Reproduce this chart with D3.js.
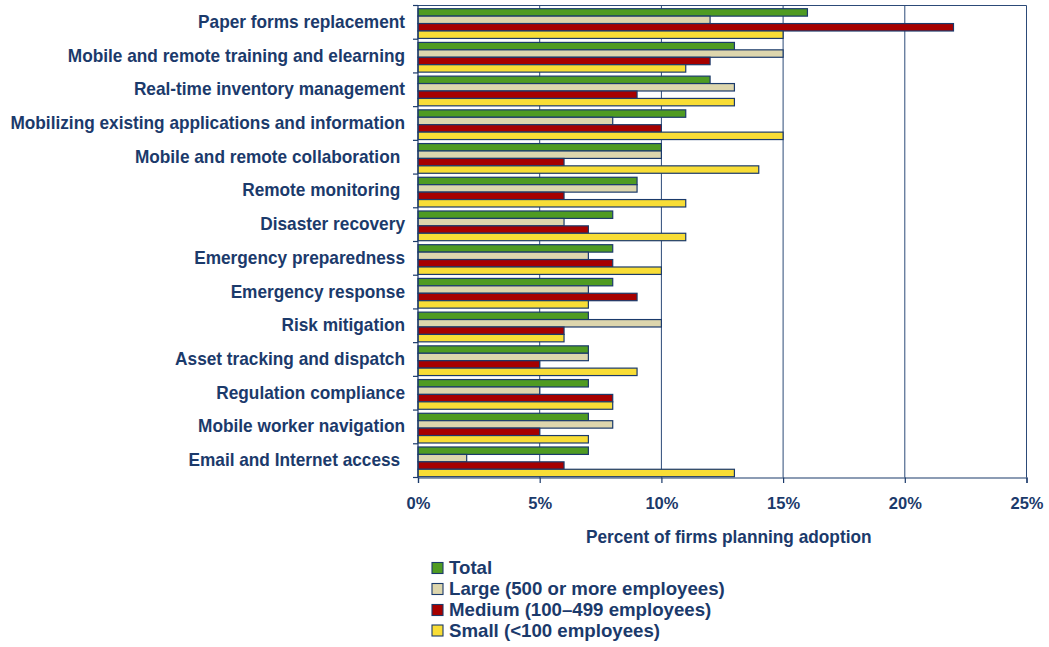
<!DOCTYPE html>
<html>
<head>
<meta charset="utf-8">
<script src="https://cdn.jsdelivr.net/npm/d3@7"></script>
<style>
  html, body { margin: 0; padding: 0; background: #ffffff; }
  svg { display: block; }
  text { font-family: "Liberation Sans", Arial, sans-serif; font-weight: bold; fill: #1b3a6b; white-space: pre; }
</style>
</head>
<body>
<svg id="chart" width="1049" height="647"></svg>
<script>
// Applications ranked by share of firms planning adoption
const categories = [
  "Paper forms replacement",
  "Mobile and remote training and elearning",
  "Real-time inventory management",
  "Mobilizing existing applications and information",
  "Mobile and remote collaboration ",
  "Remote monitoring ",
  "Disaster recovery",
  "Emergency preparedness",
  "Emergency response",
  "Risk mitigation",
  "Asset tracking and dispatch",
  "Regulation compliance",
  "Mobile worker navigation",
  "Email and Internet access "
];

const seriesNames = [
  "Total",
  "Large (500 or more employees)",
  "Medium (100\u2013499 employees)",
  "Small (<100 employees)"
];

// Percent of firms, one array per firm size
const totalValues  = [16, 13, 12, 11, 10, 9, 8, 8, 8, 7, 7, 7, 7, 7];
const largeValues  = [12, 15, 13,  8, 10, 9, 6, 7, 7, 10, 7, 5, 8, 2];
const mediumValues = [22, 12,  9, 10,  6, 6, 7, 8, 9, 6, 5, 8, 5, 6];
const smallValues  = [15, 11, 13, 15, 14, 11, 11, 10, 7, 6, 9, 8, 7, 13];

const xTicks = [0, 5, 10, 15, 20, 25];
const axisTitle = "Percent of firms planning adoption";

const seriesColors = ["#4f9b22", "#ddd6ad", "#a60000", "#f8dd36"];
const navy = "#1b3a6b";

const seriesValues = [totalValues, largeValues, mediumValues, smallValues];
const rows = categories.map((c, i) => ({
  name: c,
  values: seriesValues.map((arr, s) => ({ s, v: arr[i] }))
}));

const svg = d3.select("#chart");

const plot = { left: 418, right: 1026.5, top: 5.5, bottom: 477.5 };

const x = d3.scaleLinear().domain([0, 25]).range([plot.left, plot.right]);
const y = d3.scaleBand().domain(categories).range([plot.top, plot.bottom]).paddingInner(0).paddingOuter(0);
const inner = d3.scaleBand().domain(d3.range(4))
  .range([3.2, y.bandwidth() - 0.8]).paddingInner(0);

// vertical gridlines
svg.append("g")
  .selectAll("line")
  .data(xTicks.slice(1))
  .join("line")
  .attr("x1", d => x(d)).attr("x2", d => x(d))
  .attr("y1", plot.top).attr("y2", plot.bottom)
  .attr("stroke", "#2c4a78").attr("stroke-width", 1);

// top border
svg.append("line")
  .attr("x1", plot.left).attr("x2", plot.right)
  .attr("y1", plot.top).attr("y2", plot.top)
  .attr("stroke", "#2c4a78").attr("stroke-width", 1);

// bars
const groups = svg.append("g")
  .selectAll("g")
  .data(rows)
  .join("g")
  .attr("transform", d => `translate(0,${y(d.name)})`);

groups.selectAll("rect")
  .data(d => d.values)
  .join("rect")
  .attr("x", x(0))
  .attr("y", d => inner(d.s))
  .attr("width", d => x(d.v) - x(0))
  .attr("height", inner.bandwidth())
  .attr("fill", d => seriesColors[d.s])
  .attr("stroke", navy)
  .attr("stroke-width", 1.2);

// y axis (category boundaries as ticks)
const yAxisG = svg.append("g");
yAxisG.append("line")
  .attr("x1", plot.left).attr("x2", plot.left)
  .attr("y1", plot.top).attr("y2", plot.bottom)
  .attr("stroke", navy).attr("stroke-width", 1.2);
const bounds = categories.map(c => y(c)).concat([plot.bottom]);
yAxisG.selectAll("line.tick")
  .data(bounds)
  .join("line")
  .attr("class", "tick")
  .attr("x1", plot.left - 5).attr("x2", plot.left)
  .attr("y1", d => d).attr("y2", d => d)
  .attr("stroke", navy).attr("stroke-width", 1.2);

// category labels
const labelG = svg.append("g");
const labels = labelG.selectAll("text")
  .data(categories)
  .join("text")
  .attr("text-anchor", "end")
  .attr("font-size", 17.5)
  .text(d => d);

// x axis
const xAxis = d3.axisBottom(x).tickValues(xTicks).tickSize(5.5).tickFormat(d => d + "%");
const xAxisG = svg.append("g")
  .attr("transform", `translate(0,${plot.bottom})`)
  .call(xAxis);
xAxisG.select(".domain").attr("stroke", navy).attr("stroke-width", 1.2);
xAxisG.selectAll(".tick line").attr("stroke", navy).attr("stroke-width", 1.2);
xAxisG.selectAll(".tick text")
  .attr("fill", navy)
  .attr("font-size", 16.5)
  .attr("font-family", "Liberation Sans, Arial, sans-serif")
  .attr("font-weight", "bold")
  .attr("text-anchor", "middle")
  .attr("y", 31.8).attr("dy", 0);

// horizontally squeeze a text element around an anchor point
function squeeze(sel, sx, ax, ay) {
  sel.attr("x", 0).attr("y", 0)
     .attr("transform", `translate(${ax},${ay}) scale(${sx},1)`);
}

// common condensing factor for labels, based on the widest one
const widest = d3.max(labels.nodes(), n => n.getComputedTextLength());
const labelScale = 395 / widest;
labels.each(function (d) {
  squeeze(d3.select(this), labelScale, 405, y(d) + 22.3);
});

// axis title
const title = svg.append("text")
  .attr("text-anchor", "middle")
  .attr("font-size", 18.5)
  .text(axisTitle);
const tw = title.node().getComputedTextLength();
squeeze(title, 286 / tw, 728.7, 543.3);

// legend
const legendRows = [574, 595, 616, 636.5];
const legend = svg.append("g")
  .selectAll("g")
  .data(seriesNames)
  .join("g");
legend.append("rect")
  .attr("x", 432)
  .attr("y", (d, i) => legendRows[i] - 11.5)
  .attr("width", 11)
  .attr("height", 11)
  .attr("fill", (d, i) => seriesColors[i])
  .attr("stroke", navy)
  .attr("stroke-width", 1.1);
const legendTexts = legend.append("text")
  .attr("font-size", 17.5)
  .text(d => d);
const lw = legendTexts.nodes()[1].getComputedTextLength();
const legendScale = 276 / lw;
legendTexts.each(function (d, i) {
  squeeze(d3.select(this), legendScale, 449, legendRows[i]);
});
</script>
</body>
</html>
